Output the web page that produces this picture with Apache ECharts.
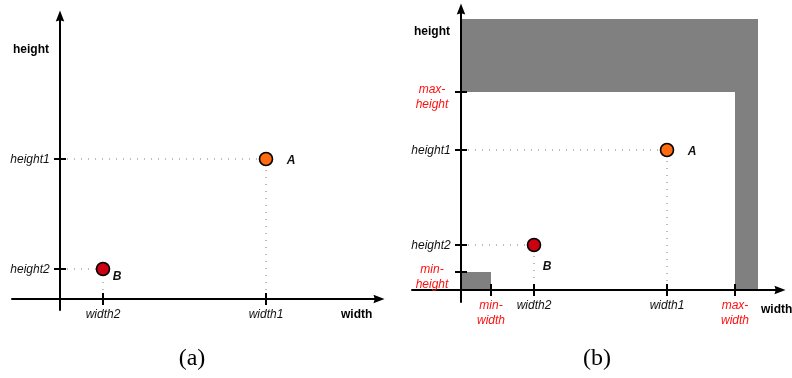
<!DOCTYPE html>
<html>
<head>
<meta charset="utf-8">
<script src="https://cdn.jsdelivr.net/npm/echarts@6/dist/echarts.min.js"></script>
<style>
html,body{margin:0;padding:0;background:#fff;}
#chart{width:792px;height:378px;}
</style>
</head>
<body>
<div id="chart"></div>
<script>
// ---------- data: panel (a) ----------
const aXTickNames = ['width2', 'width1'];
const aXTickValues = [43, 206];
const aYTickNames = ['height1', 'height2'];
const aYTickValues = [140, 30];
const aPointNames = ['A', 'B'];
const aPointX = [206, 43];
const aPointY = [140, 30];
const aXRange = [-48, 319];
const aYRange = [-11, 283];

// ---------- data: panel (b) ----------
const bXTickNames = ['min-\nwidth', 'width2', 'width1', 'max-\nwidth'];
const bXTickValues = [30, 73, 206, 274];
const bYTickNames = ['max-\nheight', 'height1', 'height2', 'min-\nheight'];
const bYTickValues = [198, 140, 45, 18];
const bPointNames = ['A', 'B'];
const bPointX = [206, 73];
const bPointY = [140, 45];
const bXRange = [-49, 319];
const bYRange = [-12, 281];
const bOuterWidth = 297;
const bOuterHeight = 271;

// ---------- styles ----------
const pointColors = ['#ff6a10', '#cc0011'];
const aLabelOffsets = [[25, 2], [14, 8]];
const bLabelOffsets = [[25, 2], [13, 22]];
const SANS = '"Liberation Sans", Arial, sans-serif';
const RED = '#ff1010';
const INK = '#111';
const ARROW = 'path://M5,0L10,13L5,11.5L0,13Z';
const isLimit = n => /^(min|max)-/.test(n);

function axisPair(gridIndex, xr, yr) {
  const base = {
    type: 'value', gridIndex: gridIndex, z: 3,
    axisLine: { show: true, onZero: true, symbol: ['none', ARROW], symbolSize: [8.5, 13],
      lineStyle: { color: '#000', width: 2 } },
    axisTick: { show: false }, axisLabel: { show: false }, splitLine: { show: false }
  };
  return [
    Object.assign({}, base, { min: xr[0], max: xr[1] }),
    Object.assign({}, base, { min: yr[0], max: yr[1] })
  ];
}

function tickSeries(idx, xNames, xVals, yNames, yVals) {
  const data = [];
  xNames.forEach((n, i) => {
    data.push({
      name: n, value: [xVals[i], 0], symbolSize: [2, 12],
      label: { show: true, position: 'inside', formatter: n, align: 'center', verticalAlign: 'top',
        offset: [0, 8], lineHeight: 15, fontFamily: SANS, fontStyle: 'italic', fontSize: 12,
        color: isLimit(n) ? RED : INK, opacity: 1 }
    });
  });
  yNames.forEach((n, i) => {
    const lim = isLimit(n);
    data.push({
      name: n, value: [0, yVals[i]], symbolSize: [12, 2],
      label: { show: true, position: 'inside', formatter: n, align: 'center',
        verticalAlign: lim ? 'top' : 'middle', offset: lim ? [-29, -10] : [-30, 1],
        lineHeight: 15, fontFamily: SANS, fontStyle: 'italic', fontSize: 12,
        color: lim ? RED : INK, opacity: 1 }
    });
  });
  return {
    type: 'scatter', xAxisIndex: idx, yAxisIndex: idx, symbol: 'rect', z: 4, silent: true,
    itemStyle: { color: '#000', opacity: 1 }, data: data
  };
}

function guideSeries(idx, px, py) {
  return px.map((x, i) => ({
    type: 'line', xAxisIndex: idx, yAxisIndex: idx, symbol: 'none', silent: true, z: 2,
    lineStyle: { color: '#7a7a7a', width: 1, type: [1, 6] },
    data: [[0, py[i]], [x, py[i]], [x, 0]]
  }));
}

function pointSeries(idx, names, px, py, offsets) {
  return {
    type: 'scatter', xAxisIndex: idx, yAxisIndex: idx, symbol: 'circle', symbolSize: 13, z: 5,
    silent: true,
    data: names.map((n, i) => ({
      name: n, value: [px[i], py[i]],
      itemStyle: { color: pointColors[i], borderColor: '#000', borderWidth: 1.6, opacity: 1 },
      label: { show: true, position: 'inside', formatter: n, offset: offsets[i], opacity: 1,
        fontFamily: SANS, fontWeight: 'bold', fontStyle: 'italic', fontSize: 12, color: INK }
    }))
  };
}

const axA = axisPair(0, aXRange, aYRange);
const axB = axisPair(1, bXRange, bYRange);

const minW = bXTickValues[0], maxW = bXTickValues[3];
const maxH = bYTickValues[0], minH = bYTickValues[3];

const graySeries = {
  type: 'line', xAxisIndex: 1, yAxisIndex: 1, data: [], silent: true,
  markArea: {
    silent: true, z: 1, label: { show: false },
    itemStyle: { color: '#808080', opacity: 1 },
    data: [
      [{ coord: [0, maxH] }, { coord: [bOuterWidth, bOuterHeight] }],
      [{ coord: [maxW, 0] }, { coord: [bOuterWidth, maxH] }],
      [{ coord: [0, 0] }, { coord: [minW, minH] }]
    ]
  }
};

const option = {
  animation: false,
  backgroundColor: '#fff',
  grid: [
    { left: 12, top: 16, width: 367, height: 294, containLabel: false, outerBoundsMode: 'none' },
    { left: 412, top: 9, width: 368, height: 293, containLabel: false, outerBoundsMode: 'none' }
  ],
  xAxis: [axA[0], axB[0]],
  yAxis: [axA[1], axB[1]],
  graphic: [
    { type: 'text', left: 13, top: 44, style: { text: 'height', font: 'bold 12px ' + SANS, fill: '#000' } },
    { type: 'text', left: 341, top: 309, style: { text: 'width', font: 'bold 12px ' + SANS, fill: '#000' } },
    { type: 'text', left: 414, top: 26, style: { text: 'height', font: 'bold 12px ' + SANS, fill: '#000' } },
    { type: 'text', left: 761, top: 304, style: { text: 'width', font: 'bold 12px ' + SANS, fill: '#000' } },
    { type: 'text', x: 192, y: 359, style: { text: '(a)', font: '24px "Liberation Serif", serif', fill: '#000', align: 'center', verticalAlign: 'middle' } },
    { type: 'text', x: 597, y: 359, style: { text: '(b)', font: '24px "Liberation Serif", serif', fill: '#000', align: 'center', verticalAlign: 'middle' } }
  ],
  series: [].concat(
    [graySeries],
    guideSeries(0, aPointX, aPointY),
    guideSeries(1, bPointX, bPointY),
    [tickSeries(0, aXTickNames, aXTickValues, aYTickNames, aYTickValues)],
    [tickSeries(1, bXTickNames, bXTickValues, bYTickNames, bYTickValues)],
    [pointSeries(0, aPointNames, aPointX, aPointY, aLabelOffsets)],
    [pointSeries(1, bPointNames, bPointX, bPointY, bLabelOffsets)]
  )
};

const chart = echarts.init(document.getElementById('chart'), null, { renderer: 'canvas' });
chart.setOption(option);
</script>
</body>
</html>
